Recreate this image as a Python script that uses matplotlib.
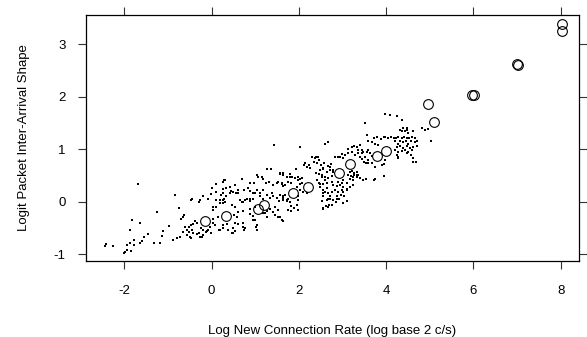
import matplotlib
matplotlib.use("Agg")
import matplotlib.pyplot as plt

plt.rcParams['font.family'] = ['Liberation Sans', 'DejaVu Sans']
plt.rcParams['axes.unicode_minus'] = False

# individual observations (small dots)
dot_x = [
    -1.69, -1.25, -1.83, -1.64, -0.98, -1.87, -1.12, -1.13, -1.45, -1.56,
    -1.77, -1.59, -1.64, -1.31, -1.19, -1.88, -1.94, -1.78, -2.42, -2.45,
    -2.26, -1.95, -1.85, -1.98, -2.02,
    0.29, 0.11, 0.27, 0.34, -0.02, 0.21, 0.25, 0.11, 0.19, 0.29,
    0.25, 0.31, -0.08, -0.28, -0.48, -0.85, -0.74, -0.64, -0.71, -0.65,
    0.04, 0.15, 0.04, -0.39, -0.34, -0.42, -0.53, -0.47, -0.61, -0.56,
    -0.51, -0.45, -0.25, -0.19, -0.13, -0.08, -0.02, -0.28, -0.34, -0.73,
    -0.79, -0.89, -0.48, -0.22, 0.17, 0.27, 0.08, 0.38, 0.36,
    1.44, 1.28, 1.37, 1.57, 1.63, 1.06, 1.18, 0.69, 0.88, 0.97,
    1.25, 1.31, 1.41, 1.49, 1.61, 1.64, 0.44, 0.50, 0.56, 0.60,
    0.74, 0.84, 0.88, 0.94, 0.99, 1.05, 1.11, 1.18, 0.69, 0.76,
    0.82, 0.88, 0.94, 1.38, 1.40, 1.57, 1.63, 1.55, 1.64, 0.47,
    0.53, 0.61, 0.72, 0.88, 0.99, 0.51, 0.59, 0.89, 0.95, 0.94,
    1.22, 1.28, 1.34, 1.41, 1.45, 1.53, 1.61, 1.64, 0.53, 0.60,
    0.72, 0.74, 1.02, 1.03, 0.48, 0.53,
    2.02, 2.60, 2.66, 2.31, 2.39, 2.44, 2.35, 2.42, 2.11, 2.18,
    2.25, 2.51, 2.58, 2.66, 2.74, 2.48, 2.56, 2.64, 2.71, 2.79,
    2.39, 2.45, 2.52, 2.60, 2.67, 2.75, 1.93, 1.80, 1.85, 1.91,
    1.97, 2.03, 1.76, 1.82, 2.02, 2.06, 2.41, 2.45, 2.48, 2.56,
    2.64, 2.75, 2.79, 1.68, 1.76, 1.73, 1.97, 1.99, 2.55, 2.60,
    2.67, 2.75, 2.54, 2.66, 2.71, 2.79, 2.56, 2.61, 2.69, 1.83,
    1.89, 1.74, 1.83, 1.97,
    3.52, 3.55, 3.71, 3.78, 3.88, 3.94, 3.59, 3.67, 3.75, 3.82,
    3.13, 3.21, 3.27, 3.33, 3.40, 3.44, 3.48, 3.55, 3.59, 3.63,
    3.67, 3.36, 3.40, 3.44, 3.50, 3.53, 3.58, 3.59, 2.83, 2.89,
    2.95, 3.00, 2.98, 3.06, 3.97, 3.96, 3.17, 3.22, 3.27, 3.33,
    3.13, 3.20, 3.26, 3.32, 3.36, 3.17, 3.25, 3.53, 3.75, 2.90,
    2.98, 2.87, 2.94, 3.02, 2.83, 2.90, 2.98, 3.10, 2.87, 2.97,
    3.04, 2.92, 2.84, 3.02, 3.10, 3.94,
    3.97, 4.09, 4.24, 4.36, 4.83, 4.89, 4.95, 5.03, 4.47, 4.43,
    4.50, 4.32, 4.37, 4.62, 3.97, 4.05, 4.11, 4.17, 4.22, 4.28,
    4.36, 4.42, 4.47, 4.53, 4.59, 4.65, 4.20, 4.27, 4.32, 4.39,
    4.45, 4.51, 4.57, 4.66, 4.70, 4.24, 4.32, 4.39, 4.47, 4.55,
    4.62, 4.70, 4.20, 4.28, 4.36, 4.43, 4.51, 4.59, 4.24, 4.28,
    4.47, 4.57, 4.62, 4.68,
    # second reading of the central band
    4.38, 4.47, 4.62, 4.28, 3.71, 3.90, 2.37, 2.45, 2.41, 2.14,
    2.22, 1.03, 1.15, 1.57, 1.64, 1.72, 1.80, 1.91, 1.99, 2.06,
    1.53, 1.61, 1.68, 1.95, 2.03, 2.10, 2.18, 1.57, 1.64, 1.49,
    1.72, 1.80, 1.45, 1.53, 1.57, 1.95, 1.99, 1.18, 1.26, 0.99,
    1.03, 1.02, 0.72, 0.76, 0.50, 0.46, 0.27, 0.19, 0.04, -0.04,
    -0.11, -0.19, -0.27, -0.34, -0.42, -0.50, -0.57, -0.65, 0.04, 0.11,
    0.19, 0.27, 0.34, 0.42, 0.50, 0.61, 0.65, 0.72, 0.80, 0.88,
    0.95, 1.11, 1.18, 1.26, 1.34, 0.27, 0.42, 0.53, 0.00, 0.11,
    -0.27, -0.19, -0.46, 0.31,
    2.48, 2.56, 2.64, 2.71, 2.79, 2.52, 2.60, 2.67, 2.48, 2.56,
    2.64, 2.75, 2.83, 2.56, 2.64, 2.71, 2.87, 2.56, 2.67, 2.75,
    3.02, 3.10, 3.17, 3.25, 3.02, 3.10, 3.25, 3.33, 3.40, 3.48,
    3.36, 3.44, 3.52, 3.59, 3.67, 3.75, 3.13, 3.21, 3.29,
]
dot_y = [
    0.33, -0.20, -0.35, -0.41, -0.47, -0.53, -0.56, -0.65, -0.62, -0.67,
    -0.72, -0.74, -0.78, -0.78, -0.79, -0.79, -0.83, -0.83, -0.81, -0.85,
    -0.85, -0.92, -0.93, -0.95, -0.97,
    0.41, 0.33, 0.24, 0.26, 0.14, 0.13, 0.17, 0.03, 0.03, 0.05,
    -0.03, 0.00, 0.05, 0.00, 0.03, 0.13, -0.11, -0.25, -0.32, -0.30,
    -0.10, -0.29, -0.32, -0.36, -0.40, -0.43, -0.48, -0.44, -0.49, -0.54,
    -0.57, -0.54, -0.51, -0.54, -0.57, -0.54, -0.59, -0.60, -0.62, -0.67,
    -0.70, -0.73, -0.70, -0.68, -0.54, -0.51, -0.44, -0.54, -0.43,
    1.09, 0.62, 0.62, 0.53, 0.54, 0.48, 0.43, 0.43, 0.35, 0.36,
    0.35, 0.38, 0.32, 0.35, 0.34, 0.30, 0.21, 0.19, 0.16, 0.17,
    0.22, 0.26, 0.21, 0.16, 0.17, 0.22, 0.16, 0.22, 0.00, 0.03,
    0.05, 0.06, 0.06, 0.16, 0.11, 0.13, 0.10, 0.02, 0.03, -0.06,
    -0.10, -0.19, -0.17, -0.13, -0.10, -0.25, -0.29, -0.23, -0.27, -0.35,
    -0.22, -0.17, -0.13, -0.19, -0.25, -0.29, -0.34, -0.36, -0.40, -0.43,
    -0.49, -0.54, -0.49, -0.54, -0.59, -0.55,
    1.04, 1.10, 1.14, 0.85, 0.86, 0.85, 0.76, 0.74, 0.70, 0.67,
    0.64, 0.70, 0.73, 0.68, 0.72, 0.60, 0.62, 0.57, 0.60, 0.57,
    0.55, 0.53, 0.51, 0.48, 0.45, 0.49, 0.62, 0.53, 0.48, 0.45,
    0.47, 0.43, 0.38, 0.35, 0.34, 0.35, 0.41, 0.36, 0.34, 0.34,
    0.36, 0.38, 0.32, 0.13, 0.06, 0.01, 0.10, 0.03, 0.16, 0.19,
    0.16, 0.19, 0.02, 0.06, 0.10, 0.03, -0.11, -0.08, -0.06, -0.08,
    -0.11, -0.16, -0.17, -0.15,
    1.50, 1.27, 1.21, 1.23, 1.20, 1.23, 1.15, 1.13, 1.10, 1.08,
    1.00, 1.04, 1.06, 1.05, 1.08, 0.99, 0.94, 0.95, 0.99, 0.92,
    0.87, 0.92, 0.86, 0.81, 0.76, 0.73, 0.80, 0.73, 0.86, 0.85,
    0.86, 0.83, 0.91, 0.89, 0.80, 0.72, 0.57, 0.59, 0.55, 0.57,
    0.51, 0.49, 0.51, 0.48, 0.51, 0.43, 0.41, 0.43, 0.43, 0.38,
    0.36, 0.30, 0.32, 0.29, 0.22, 0.19, 0.22, 0.24, 0.11, 0.13,
    0.10, 0.05, 0.00, -0.02, 0.02, 0.49,
    1.67, 1.65, 1.64, 1.56, 1.40, 1.37, 1.39, 1.15, 1.40, 1.34,
    1.31, 1.37, 1.35, 1.35, 1.24, 1.21, 1.24, 1.21, 1.22, 1.24,
    1.21, 1.24, 1.22, 1.21, 1.24, 1.22, 1.15, 1.11, 1.15, 1.13,
    1.15, 1.11, 1.15, 1.13, 1.15, 1.05, 1.07, 1.03, 1.07, 1.03,
    1.05, 1.07, 0.99, 0.95, 0.97, 0.99, 0.95, 0.99, 0.89, 0.84,
    0.92, 0.89, 0.83, 0.75,
    # second reading of the central band
    1.40, 1.37, 0.76, 0.86, 0.41, 0.70, 0.83, 0.80, 0.74, 0.73,
    0.70, 0.51, 0.48, 0.54, 0.51, 0.48, 0.48, 0.45, 0.41, 0.45,
    0.38, 0.35, 0.32, 0.29, 0.22, 0.19, 0.16, 0.13, 0.08, 0.08,
    0.03, 0.00, -0.10, -0.16, -0.29, -0.06, -0.16, -0.22, -0.29, -0.35,
    -0.44, -0.49, -0.41, -0.51, -0.51, -0.60, -0.44, -0.54, -0.41, -0.48,
    -0.55, -0.64, -0.67, -0.62, -0.60, -0.67, -0.64, -0.57, -0.16, -0.10,
    -0.03, 0.03, 0.10, 0.16, 0.19, 0.22, 0.03, 0.00, 0.05, 0.02,
    0.06, 0.10, 0.05, 0.13, 0.08, 0.38, 0.29, 0.32, 0.26, 0.19,
    0.03, 0.10, 0.05, 0.41,
    0.60, 0.64, 0.57, 0.67, 0.60, 0.48, 0.41, 0.45, 0.29, 0.22,
    0.26, 0.19, 0.22, 0.10, 0.03, 0.06, 0.05, -0.13, -0.10, -0.06,
    0.41, 0.35, 0.29, 0.32, 0.19, 0.22, 0.48, 0.51, 0.45, 0.41,
    0.99, 0.92, 0.86, 0.80, 0.73, 0.67, 0.92, 0.95, 0.89,
]

# group summaries (open circles)
circ_x = [-0.15, 0.33, 1.06, 1.21, 1.87, 2.21, 2.92, 3.16, 3.78, 4.00,
          4.95, 5.09, 5.97, 6.02, 7.00, 7.02, 8.02, 8.02]
circ_y = [-0.37, -0.27, -0.13, -0.06, 0.16, 0.29, 0.54, 0.72, 0.88, 0.97,
          1.86, 1.52, 2.03, 2.04, 2.63, 2.60, 3.38, 3.25]

fig = plt.figure(figsize=(5.87, 3.37), dpi=100)
ax = fig.add_axes([0.1465, 0.2255, 0.8399, 0.730])

ax.plot(dot_x, dot_y, 's', color='black', markersize=2.1, markeredgewidth=0)
ax.plot(circ_x, circ_y, 'o', markerfacecolor='none', markeredgecolor='black',
        markersize=7, markeredgewidth=0.8)

ax.set_xlim(-2.88, 8.42)
ax.set_ylim(-1.13, 3.56)
ax.set_xticks([-2, 0, 2, 4, 6, 8])
ax.set_yticks([-1, 0, 1, 2, 3])

ax.tick_params(direction='out', length=5.5, width=0.8, color='#333333',
               labelsize=9.5, top=True, right=True,
               labeltop=False, labelright=False)
ax.tick_params(axis='x', pad=12)
ax.tick_params(axis='y', pad=9)
for s in ax.spines.values():
    s.set_linewidth(0.9)

ax.set_xlabel('Log New Connection Rate (log base 2 c/s)', fontsize=9.5, labelpad=20)
ax.set_ylabel('Logit Packet Inter-Arrival Shape', fontsize=9.5, labelpad=17)

fig.savefig('out.png', dpi=100)
